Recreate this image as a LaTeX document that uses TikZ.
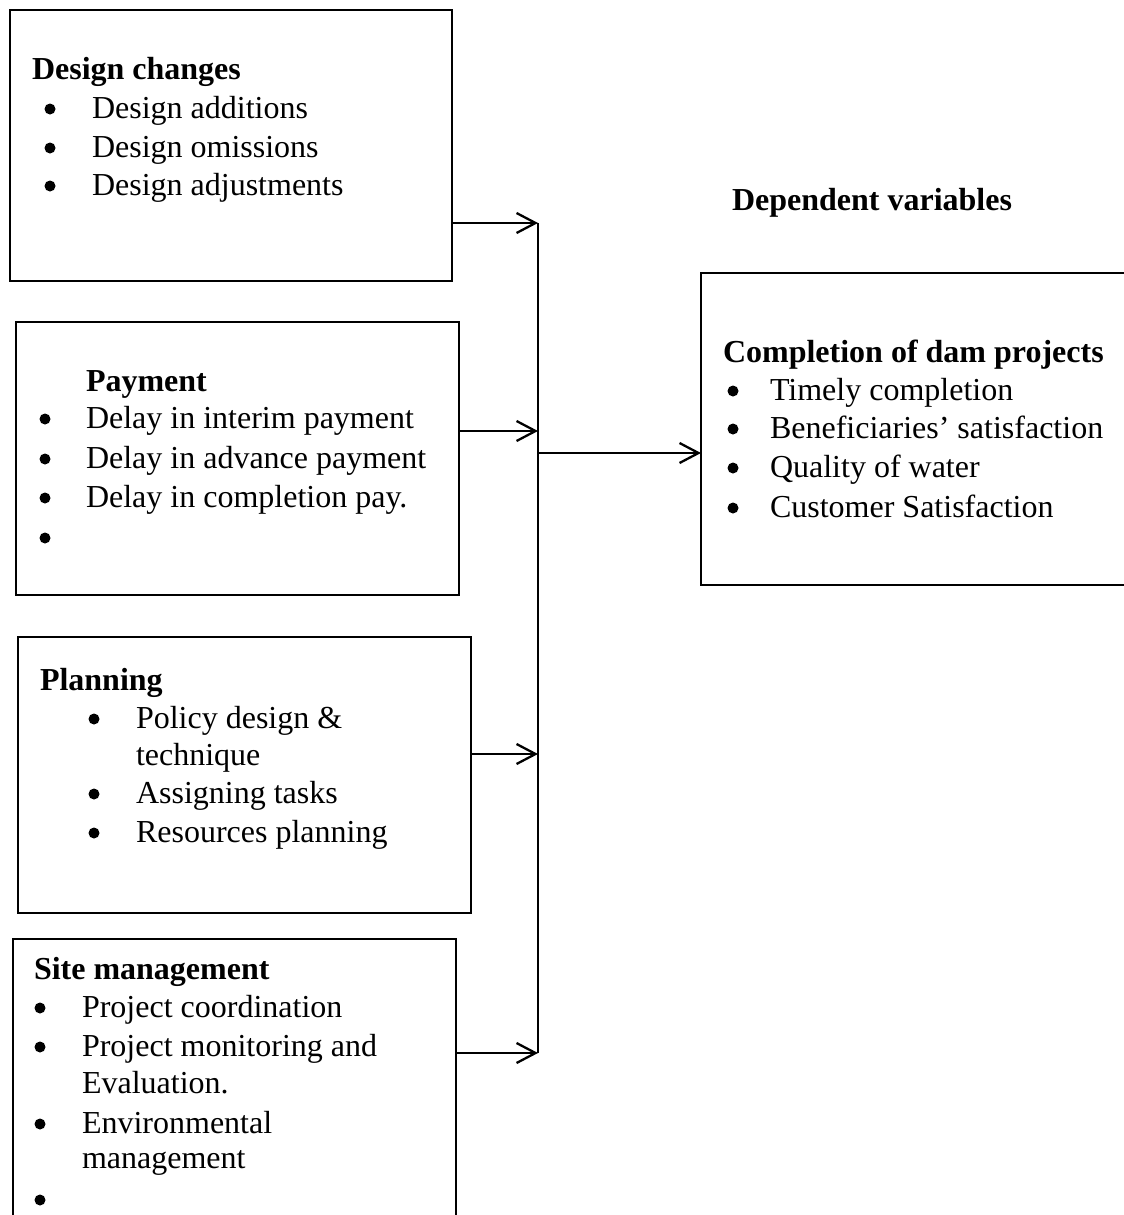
\documentclass[tikz,border=0pt]{standalone}
\usepackage{fontspec}
\setmainfont{Liberation Serif}
\usetikzlibrary{arrows.meta}
\begin{document}
\begin{tikzpicture}[x=1pt,y=-1pt,
  box/.style={draw, line width=2.7pt, rectangle, anchor=north west, inner sep=0pt, outer sep=0pt},
  txt/.style={anchor=base west, inner sep=0pt, outer sep=0pt, font=\fontsize{32}{38}\selectfont},
  hd/.style={anchor=base west, inner sep=0pt, outer sep=0pt, font=\fontsize{32}{38}\selectfont\bfseries},
  bul/.style={circle, fill, minimum size=11pt, inner sep=0pt, outer sep=0pt},
  arr/.style={line width=2.3pt, -{Straight Barb[length=19pt,width=20pt,line width=2.3pt]}},
  bus/.style={line width=1.1pt}]
\useasboundingbox (0,0) rectangle (1124,1215);
\clip (0,0) rectangle (1124,1215);

% boxes
\node[box, minimum width=442pt, minimum height=271pt] (dc) at (10,10) {};
\node[box, minimum width=443pt, minimum height=273pt] (pay) at (16,322) {};
\node[box, minimum width=453pt, minimum height=276pt] (pl) at (18,637) {};
\node[box, minimum width=443pt, minimum height=301pt] (sm) at (13,939) {};
\node[box, minimum width=439pt, minimum height=312pt] (dv) at (701,273) {};

% Design changes
\node[hd] (dct) at (32,79) {Design changes};
\node[bul] (dcb1) at (50,109) {};
\node[txt] (dc1) at (92,118) {Design additions};
\node[bul] (dcb2) at (50,148) {};
\node[txt] (dc2) at (92,157) {Design omissions};
\node[bul] (dcb3) at (50,186) {};
\node[txt] (dc3) at (92,195) {Design adjustments};

% Payment
\node[hd] (payt) at (86,391) {Payment};
\node[bul] (payb1) at (45,419) {};
\node[txt] (pay1) at (86,428) {Delay in interim payment};
\node[bul] (payb2) at (45,459) {};
\node[txt] (pay2) at (86,468) {Delay in advance payment};
\node[bul] (payb3) at (45,498) {};
\node[txt] (pay3) at (86,507) {Delay in completion pay.};
\node[bul] (payb4) at (45,538) {};

% Planning
\node[hd] (plt) at (40,690) {Planning};
\node[bul] (plb1) at (94,719) {};
\node[txt] (pl1) at (136,728) {Policy design \&};
\node[txt] (pl1b) at (136,765) {technique};
\node[bul] (plb2) at (94,794) {};
\node[txt] (pl2) at (136,803) {Assigning tasks};
\node[bul] (plb3) at (94,833) {};
\node[txt] (pl3) at (136,842) {Resources planning};

% Site management
\node[hd] (smt) at (34,979) {Site management};
\node[bul] (smb1) at (40,1008) {};
\node[txt] (sm1) at (82,1017) {Project coordination};
\node[bul] (smb2) at (40,1047) {};
\node[txt] (sm2) at (82,1056) {Project monitoring and};
\node[txt] (sm2b) at (82,1093) {Evaluation.};
\node[bul] (smb3) at (40,1124) {};
\node[txt] (sm3) at (82,1133) {Environmental};
\node[txt] (sm3b) at (82,1168) {management};
\node[bul] (smb4) at (40,1200) {};

% Dependent variables
\node[hd] (dvh) at (732,210) {Dependent variables};
\node[hd] (dvt) at (723,362) {Completion of dam projects};
\node[bul] (dvb1) at (733,391) {};
\node[txt] (dv1) at (770,400) {Timely completion};
\node[bul] (dvb2) at (733,429) {};
\node[txt] (dv2) at (770,438) {Beneficiaries’ satisfaction};
\node[bul] (dvb3) at (733,468) {};
\node[txt] (dv3) at (770,477) {Quality of water};
\node[bul] (dvb4) at (733,508) {};
\node[txt] (dv4) at (770,517) {Customer Satisfaction};

% connectors
\coordinate (j1) at (538,223);
\coordinate (j2) at (538,431);
\coordinate (j3) at (538,754);
\coordinate (j4) at (538,1053);
\coordinate (jo) at (538,453);
\draw[arr] (dc.east |- j1) -- (j1);
\draw[arr] (pay.east |- j2) -- (j2);
\draw[arr] (pl.east |- j3) -- (j3);
\draw[arr] (sm.east |- j4) -- (j4);
\draw[bus] (j1) -- (j4);
\draw[arr] (jo) -- (dv.west |- jo);
\end{tikzpicture}
\end{document}
